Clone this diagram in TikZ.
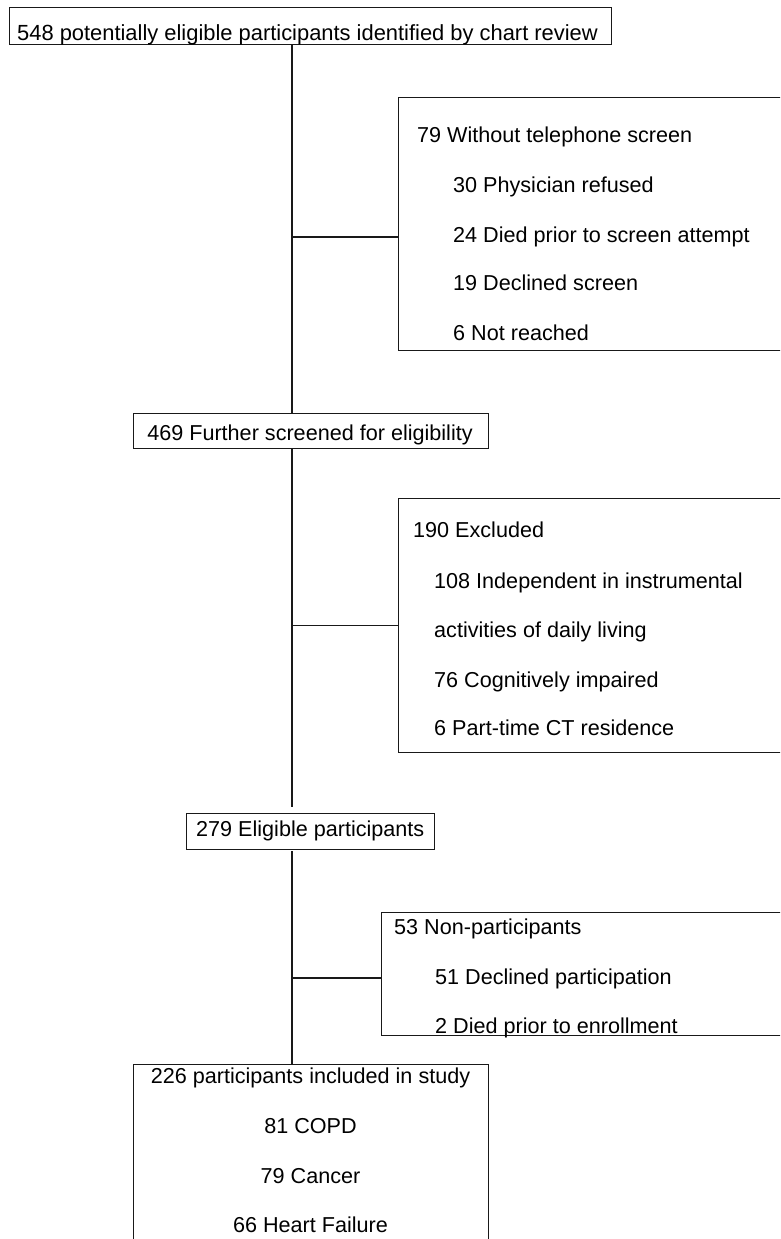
\documentclass[tikz,border=0pt]{standalone}
\usepackage{fontspec}
\setmainfont{Liberation Sans}
\begin{document}
\begin{tikzpicture}[x=1pt,y=-1pt,
  box/.style={draw=black!90, line width=1.1pt, inner sep=0pt, anchor=north west},
  link/.style={draw=black!90, line width=1.1pt},
  txt/.style={anchor=base west, inner sep=0pt, text=black, font=\fontsize{21.6}{26}\selectfont},
  ctxt/.style={anchor=base, inner sep=0pt, text=black, font=\fontsize{21.6}{26}\selectfont}]
\useasboundingbox (0,0) rectangle (780,1239);
\clip (0,0) rectangle (780,1239);
% boxes
\node[box, minimum width=602pt, minimum height=37pt] (top) at (9,7) {};
\node[box, minimum width=400pt, minimum height=253pt] (r1) at (398,97) {};
\node[box, minimum width=355pt, minimum height=35pt] (f469) at (133,413) {};
\node[box, minimum width=400pt, minimum height=254pt] (r2) at (398,498) {};
\node[box, minimum width=248pt, minimum height=36pt] (e279) at (186,813) {};
\node[box, minimum width=420pt, minimum height=123pt] (r3) at (381,912) {};
\node[box, minimum width=355pt, minimum height=200pt] (inc) at (133,1064) {};
% texts
\node[ctxt, font=\fontsize{21.9}{26}\selectfont] (t0) at (307.5,41) {548 potentially eligible participants identified by chart review};
\node[txt] (a1) at (417,142) {79 Without telephone screen};
\node[txt] (a2) at (453,192) {30 Physician refused};
\node[txt] (a3) at (453,242) {24 Died prior to screen attempt};
\node[txt] (a4) at (453,290) {19 Declined screen};
\node[txt] (a5) at (453,340) {6 Not reached};
\node[ctxt] (t1) at (310,440) {469 Further screened for eligibility};
\node[txt] (b1) at (413,537) {190 Excluded};
\node[txt] (b2) at (434,588) {108 Independent in instrumental};
\node[txt] (b3) at (434,637) {activities of daily living};
\node[txt] (b4) at (434,687) {76 Cognitively impaired};
\node[txt] (b5) at (434,735) {6 Part-time CT residence};
\node[txt] (t2) at (196,836) {279 Eligible participants};
\node[txt] (c1) at (394,934) {53 Non-participants};
\node[txt] (c2) at (435,984) {51 Declined participation};
\node[txt] (c3) at (435,1033) {2 Died prior to enrollment};
\node[ctxt] (d1) at (310.5,1083) {226 participants included in study};
\node[ctxt] (d2) at (310.5,1133) {81 COPD};
\node[ctxt] (d3) at (310.5,1183) {79 Cancer};
\node[ctxt] (d4) at (310.5,1232) {66 Heart Failure};
% connectors
\coordinate (spine) at (292,0);
\coordinate (j1) at (398,237);
\coordinate (e1) at (292,807);
\coordinate (s2) at (292,851);
\coordinate (j3) at (381,978);
\draw[link] (top.south -| spine) -- (f469.north -| spine);
\draw[link] (spine |- j1) -- (j1);
\draw[link] (f469.south -| spine) -- (e1);
\draw[link] (spine |- r2.west) -- (r2.west);
\draw[link] (s2) -- (inc.north -| spine);
\draw[link] (spine |- j3) -- (j3);
\end{tikzpicture}
\end{document}
